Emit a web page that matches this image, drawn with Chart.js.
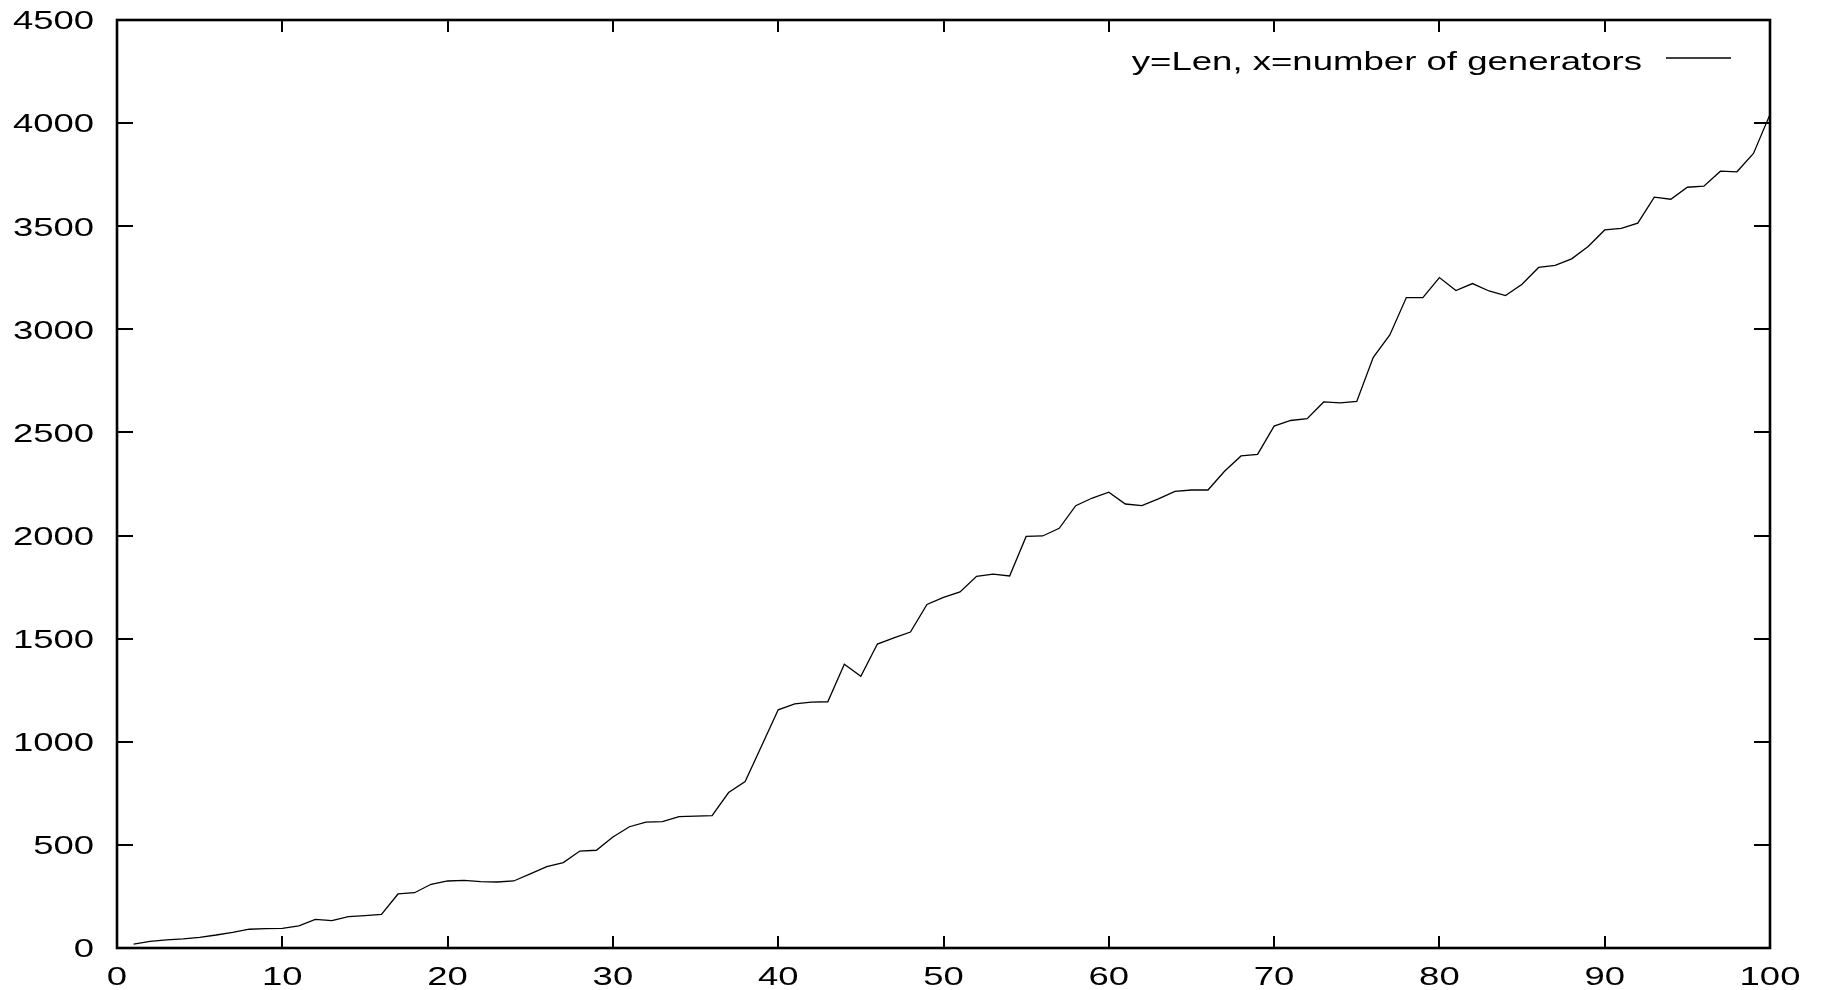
<!DOCTYPE html>
<html>
<head>
<meta charset="utf-8">
<title>Len vs number of generators</title>
<script src="https://cdn.jsdelivr.net/npm/chart.js@4/dist/chart.umd.min.js"></script>
<style>
  html, body { margin: 0; padding: 0; background: #ffffff; }
  #wrap { width: 1822px; height: 990px; position: relative; }
</style>
</head>
<body>
<div id="wrap"><canvas id="chart"></canvas></div>
<script>
// number of generators (x)
const generators = [
  1, 2, 3, 4, 5, 6, 7, 8, 9, 10,
  11, 12, 13, 14, 15, 16, 17, 18, 19, 20,
  21, 22, 23, 24, 25, 26, 27, 28, 29, 30,
  31, 32, 33, 34, 35, 36, 37, 38, 39, 40,
  41, 42, 43, 44, 45, 46, 47, 48, 49, 50,
  51, 52, 53, 54, 55, 56, 57, 58, 59, 60,
  61, 62, 63, 64, 65, 66, 67, 68, 69, 70,
  71, 72, 73, 74, 75, 76, 77, 78, 79, 80,
  81, 82, 83, 84, 85, 86, 87, 88, 89, 90,
  91, 92, 93, 94, 95, 96, 97, 98, 99, 100
];

// Len (y)
const lengths = [
  19, 32, 39, 44, 52, 63, 76, 91, 94, 95,
  107, 139, 133, 152, 157, 163, 262, 268, 309, 325,
  328, 322, 320, 325, 359, 395, 414, 470, 474, 538,
  588, 610, 613, 637, 639, 642, 754, 807, 981, 1155,
  1184, 1192, 1194, 1376, 1318, 1474, 1504, 1532, 1666, 1700,
  1727, 1802, 1813, 1804, 1996, 1998, 2035, 2145, 2182, 2210,
  2153, 2145, 2178, 2214, 2221, 2221, 2312, 2386, 2394, 2531,
  2558, 2567, 2648, 2643, 2650, 2864, 2973, 3154, 3154, 3251,
  3188, 3222, 3186, 3164, 3219, 3300, 3310, 3342, 3402, 3482,
  3490, 3515, 3641, 3631, 3689, 3694, 3767, 3764, 3853, 4042
];

const xTicks = [0, 10, 20, 30, 40, 50, 60, 70, 80, 90, 100];
const yTicks = [0, 500, 1000, 1500, 2000, 2500, 3000, 3500, 4000, 4500];

const seriesLabel = 'y=Len, x=number of generators';

const FONT = '"Liberation Sans", Arial, Helvetica, sans-serif';
const INK = '#000000';

// Draws the framed box, inward ticks on all four sides, the wide tick labels
// and the key in the upper right.
const frameAndLabels = {
  id: 'frameAndLabels',
  afterDatasetsDraw(chart) {
    const ctx = chart.ctx;
    const a = chart.chartArea;
    const xs = chart.scales.x;
    const ys = chart.scales.y;

    ctx.save();
    ctx.strokeStyle = INK;
    ctx.lineWidth = 2;
    ctx.lineCap = 'butt';

    // ticks along bottom and top
    xTicks.forEach(v => {
      const px = Math.round(xs.getPixelForValue(v));
      ctx.beginPath();
      ctx.moveTo(px, a.bottom);
      ctx.lineTo(px, a.bottom - 12);
      ctx.moveTo(px, a.top);
      ctx.lineTo(px, a.top + 12);
      ctx.stroke();
    });
    // ticks along left and right
    yTicks.forEach(v => {
      const py = Math.round(ys.getPixelForValue(v));
      ctx.beginPath();
      ctx.moveTo(a.left, py);
      ctx.lineTo(a.left + 16, py);
      ctx.moveTo(a.right, py);
      ctx.lineTo(a.right - 16, py);
      ctx.stroke();
    });

    // frame
    ctx.lineWidth = 2.6;
    ctx.strokeRect(a.left, a.top, a.right - a.left, a.bottom - a.top);

    // tick labels, set wide
    ctx.fillStyle = INK;
    ctx.font = '25.5px ' + FONT;
    ctx.textBaseline = 'alphabetic';
    const stretch = 1.43;

    yTicks.forEach(v => {
      const py = ys.getPixelForValue(v);
      ctx.save();
      ctx.translate(94, py + 9.3);
      ctx.scale(stretch, 1);
      ctx.textAlign = 'right';
      ctx.fillText(String(v), 0, 0);
      ctx.restore();
    });
    xTicks.forEach(v => {
      const px = xs.getPixelForValue(v);
      ctx.save();
      ctx.translate(px, 984.5);
      ctx.scale(stretch, 1);
      ctx.textAlign = 'center';
      ctx.fillText(String(v), 0, 0);
      ctx.restore();
    });

    // key
    const ds = chart.data.datasets[0];
    ctx.font = '26.5px ' + FONT;
    ctx.save();
    ctx.translate(1642, 70);
    ctx.scale(1.38, 1);
    ctx.textAlign = 'right';
    ctx.fillText(ds.label, 0, 0);
    ctx.restore();

    ctx.strokeStyle = ds.borderColor;
    ctx.lineWidth = ds.borderWidth;
    ctx.beginPath();
    ctx.moveTo(1666, 58);
    ctx.lineTo(1731, 58);
    ctx.stroke();

    ctx.restore();
  }
};

const points = generators.map((g, i) => ({ x: g, y: lengths[i] }));

new Chart(document.getElementById('chart'), {
  type: 'line',
  data: {
    datasets: [{
      label: seriesLabel,
      data: points,
      borderColor: '#000000',
      borderWidth: 1.3,
      pointRadius: 0,
      pointHoverRadius: 0,
      tension: 0,
      fill: false
    }]
  },
  options: {
    responsive: true,
    maintainAspectRatio: false,
    devicePixelRatio: 1,
    animation: false,
    events: [],
    layout: { padding: { left: 117, right: 52, top: 20, bottom: 42 } },
    plugins: {
      legend: { display: false },
      tooltip: { enabled: false },
      title: { display: false }
    },
    scales: {
      x: {
        type: 'linear',
        min: 0,
        max: 100,
        ticks: { display: false },
        grid: { display: false, drawTicks: false },
        border: { display: false }
      },
      y: {
        type: 'linear',
        min: 0,
        max: 4500,
        ticks: { display: false },
        grid: { display: false, drawTicks: false },
        border: { display: false }
      }
    }
  },
  plugins: [frameAndLabels]
});
</script>
</body>
</html>
